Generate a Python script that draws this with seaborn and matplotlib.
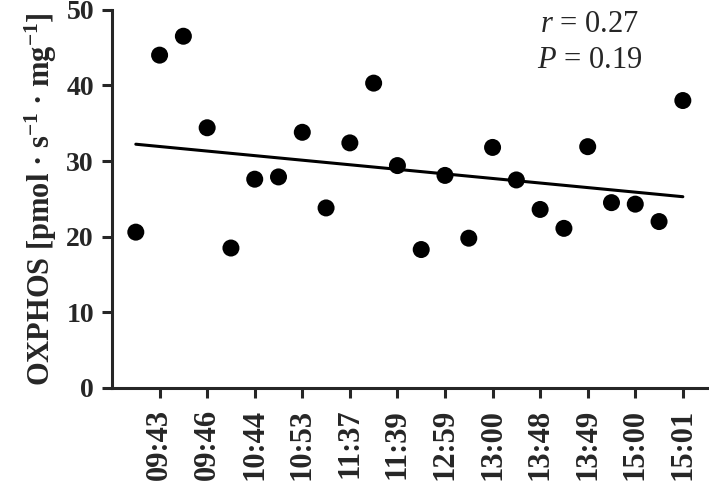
import numpy as np
import pandas as pd
import matplotlib
matplotlib.use("Agg")
import matplotlib.pyplot as plt
import seaborn as sns

# measurement order (24 samples), every second one labelled on the axis
sample_idx = list(range(24))
oxphos = [20.6, 44.0, 46.5, 34.4, 18.5, 27.6, 27.9, 33.8, 23.8, 32.4, 40.3, 29.4,
          18.3, 28.1, 19.8, 31.8, 27.5, 23.6, 21.1, 31.9, 24.5, 24.3, 22.0, 38.0]
tick_pos = [1, 3, 5, 7, 9, 11, 13, 15, 17, 19, 21, 23]
tick_labels = ["09:43", "09:46", "10:44", "10:53", "11:37", "11:39",
               "12:59", "13:00", "13:48", "13:49", "15:00", "15:01"]
r_text = "0.27"
p_text = "0.19"

df = pd.DataFrame({"idx": sample_idx, "oxphos": oxphos})

sns.set_style("ticks")
plt.rcParams["font.family"] = ["Liberation Serif", "DejaVu Serif"]
plt.rcParams["mathtext.fontset"] = "custom"
plt.rcParams["mathtext.rm"] = "Liberation Serif"
plt.rcParams["mathtext.it"] = "Liberation Serif:italic"
plt.rcParams["mathtext.bf"] = "Liberation Serif:bold"

fig = plt.figure(figsize=(7.09, 4.88), dpi=100)
ax = fig.add_axes([0.158, 0.205, 0.842, 0.775])

sns.regplot(data=df, x="idx", y="oxphos", ci=None, ax=ax,
            scatter_kws={"s": 150, "color": "black", "edgecolor": "none", "alpha": 1},
            line_kws={"color": "black", "lw": 2.2})

ax.set_xlim(-1, 24.1)
ax.set_ylim(0, 50)
ax.set_yticks([0, 10, 20, 30, 40, 50])
ax.set_xticks(tick_pos)
ax.set_xticklabels(tick_labels, rotation=90, fontweight="bold", fontsize=22)
for t in ax.get_yticklabels():
    t.set_fontweight("bold")
    t.set_fontsize(20)
ax.set_xlabel("")
ax.set_ylabel(r"OXPHOS [pmol · s$^{\mathbf{-1}}$ · mg$^{\mathbf{-1}}$]",
              fontweight="bold", fontsize=22, labelpad=5)

sns.despine(ax=ax)
for s in ["left", "bottom"]:
    ax.spines[s].set_linewidth(2.2)
ax.tick_params(axis="y", width=2.2, length=7, pad=6)
ax.tick_params(axis="x", width=2.2, length=7, pad=8)

ax.text(0.80, 1.0, r"$\it{r}$ = " + r_text, transform=ax.transAxes,
        ha="center", va="top", fontsize=22)
ax.text(0.80, 0.905, r"$\it{P}$ = " + p_text, transform=ax.transAxes,
        ha="center", va="top", fontsize=22)

fig.savefig("out.png", dpi=100)
